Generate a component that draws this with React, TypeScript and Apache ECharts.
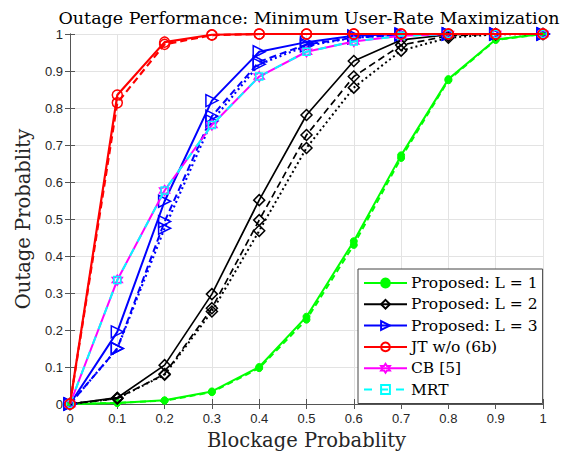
import React, { useEffect, useRef } from "react";
import * as echarts from "echarts";

const xValues = [0, 0.1, 0.2, 0.3, 0.4, 0.5, 0.6, 0.7, 0.8, 0.9, 1];

const greenSolid = [0, 0.003, 0.01, 0.034, 0.1, 0.236, 0.44, 0.672, 0.878, 0.985, 1];
const greenDashed = [0, 0.003, 0.009, 0.032, 0.097, 0.228, 0.43, 0.665, 0.875, 0.984, 1];

const blackSolid = [0, 0.017, 0.105, 0.297, 0.551, 0.781, 0.927, 0.984, 0.998, 1, 1];
const blackDashed = [0, 0.015, 0.081, 0.259, 0.497, 0.727, 0.885, 0.97, 0.995, 1, 1];
const blackDotted = [0, 0.015, 0.079, 0.25, 0.468, 0.692, 0.855, 0.955, 0.99, 0.999, 1];

const blueSolid = [0, 0.195, 0.548, 0.82, 0.952, 0.978, 0.995, 1, 1, 1, 1];
const blueDashed = [0, 0.15, 0.493, 0.778, 0.925, 0.972, 0.99, 0.998, 1, 1, 1];
const blueDotted = [0, 0.15, 0.475, 0.765, 0.918, 0.968, 0.99, 0.998, 1, 1, 1];

const redSolid = [0, 0.835, 0.978, 0.998, 1, 1, 1, 1, 1, 1, 1];
const redDashed = [0, 0.814, 0.972, 0.997, 1, 1, 1, 1, 1, 1, 1];

const cbValues = [0, 0.335, 0.577, 0.754, 0.885, 0.952, 0.98, 0.995, 1, 1, 1];
const mrtValues = [0, 0.335, 0.577, 0.754, 0.885, 0.952, 0.98, 0.995, 1, 1, 1];

const legendNames = [
  "Proposed: L = 1",
  "Proposed: L = 2",
  "Proposed: L = 3",
  "JT w/o (6b)",
  "CB [5]",
  "MRT",
];

const titleText = "Outage Performance: Minimum User-Rate Maximization";
const xAxisName = "Blockage Probablity";
const yAxisName = "Outage Probablity";

const TRI_RIGHT = "path://M0,0L12,7L0,14Z";
const HEXAGRAM =
  "path://M10,0L12.89,5L18.66,5L15.77,10L18.66,15L12.89,15L10,20L7.11,15L1.34,15L4.23,10L1.34,5L7.11,5Z";

const toPairs = (ys: number[]) => ys.map((y, i) => [xValues[i], y]);

function mk(
  name: string,
  ys: number[],
  color: string,
  lineType: any,
  width: number,
  symbol: string,
  size: number,
  filled: boolean,
  z: number
) {
  return {
    type: "line",
    name,
    data: toPairs(ys),
    symbol,
    symbolSize: size,
    showSymbol: true,
    z,
    lineStyle: { color, width, type: lineType },
    itemStyle: filled
      ? { color, borderColor: color, borderWidth: 1 }
      : { color: "rgba(255,255,255,0)", borderColor: color, borderWidth: 1.5 },
    emphasis: { disabled: true },
  };
}

export default function App() {
  const ref = useRef<HTMLDivElement>(null);
  useEffect(() => {
    if (!ref.current) return;
    const chart = echarts.init(ref.current, undefined, { renderer: "svg" });
    const axisColor = "#555555";
    const tickLabel = {
      color: "#262626",
      fontFamily: "Liberation Sans, Arial, sans-serif",
      fontSize: 13,
    };
    const fmt = (v: number) => String(Math.round(v * 10) / 10);
    const option: any = {
      animation: false,
      backgroundColor: "#ffffff",
      grid: { left: 70, right: 28, top: 34, bottom: 52, containLabel: false },
      graphic: [
        {
          type: "text",
          x: 309,
          y: 18,
          style: {
            text: titleText,
            fontFamily: "DejaVu Serif",
            fontSize: 17.5,
            fill: "#000",
            textAlign: "center",
            textVerticalAlign: "middle",
          },
        },
      ],
      legend: {
        orient: "vertical",
        left: 358,
        top: 269,
        data: legendNames,
        itemWidth: 43,
        itemHeight: 11,
        itemGap: 3.3,
        padding: [5, 5, 5, 5],
        backgroundColor: "#ffffff",
        borderColor: "#444",
        borderWidth: 1,
        borderRadius: 0,
        z: 10,
        textStyle: {
          fontFamily: "DejaVu Serif",
          fontSize: 15.5,
          lineHeight: 18,
          color: "#000",
          padding: [0, 0, 0, -1],
        },
        selectedMode: false,
      },
      xAxis: [
        {
          type: "value",
          min: 0,
          max: 1,
          interval: 0.1,
          name: xAxisName,
          nameLocation: "middle",
          nameGap: 26,
          nameTextStyle: { fontFamily: "DejaVu Serif", fontSize: 19.5, color: "#262626" },
          axisLine: { show: true, lineStyle: { color: axisColor, width: 1 } },
          axisTick: { show: true, inside: true, length: 5, lineStyle: { color: axisColor } },
          axisLabel: { ...tickLabel, margin: 8, formatter: fmt },
          splitLine: { show: true, lineStyle: { color: "#e3e3e3", width: 1 } },
        },
        {
          type: "value",
          min: 0,
          max: 1,
          interval: 0.1,
          position: "top",
          axisLine: { show: true, lineStyle: { color: axisColor, width: 1 } },
          axisTick: { show: true, inside: true, length: 5, lineStyle: { color: axisColor } },
          axisLabel: { show: false },
          splitLine: { show: false },
        },
      ],
      yAxis: [
        {
          type: "value",
          min: 0,
          max: 1,
          interval: 0.1,
          name: yAxisName,
          nameLocation: "middle",
          nameGap: 37,
          nameTextStyle: { fontFamily: "DejaVu Serif", fontSize: 19.5, color: "#262626" },
          axisLine: { show: true, lineStyle: { color: axisColor, width: 1 } },
          axisTick: { show: true, inside: true, length: 5, lineStyle: { color: axisColor } },
          axisLabel: { ...tickLabel, margin: 7, formatter: fmt },
          splitLine: { show: true, lineStyle: { color: "#e3e3e3", width: 1 } },
        },
        {
          type: "value",
          min: 0,
          max: 1,
          interval: 0.1,
          position: "right",
          axisLine: { show: true, lineStyle: { color: axisColor, width: 1 } },
          axisTick: { show: true, inside: true, length: 5, lineStyle: { color: axisColor } },
          axisLabel: { show: false },
          splitLine: { show: false },
        },
      ],
      series: [
        mk("Proposed: L = 1", greenSolid, "#00ff00", "solid", 2, "circle", 7, true, 3),
        mk("Proposed: L = 1 (b)", greenDashed, "#00ff00", [6, 4], 2, "circle", 7, true, 3),
        mk("Proposed: L = 2", blackSolid, "#000000", "solid", 1.7, "diamond", 11, false, 4),
        mk("Proposed: L = 2 (b)", blackDashed, "#000000", [7, 4], 1.7, "diamond", 11, false, 4),
        mk("Proposed: L = 2 (c)", blackDotted, "#000000", [2, 3], 2, "diamond", 11, false, 4),
        mk("Proposed: L = 3", blueSolid, "#0000ff", "solid", 2, TRI_RIGHT, 12, false, 5),
        mk("Proposed: L = 3 (b)", blueDashed, "#0000ff", [7, 4], 2, TRI_RIGHT, 12, false, 5),
        mk("Proposed: L = 3 (c)", blueDotted, "#0000ff", [2, 3], 2.2, TRI_RIGHT, 12, false, 5),
        mk("JT w/o (6b)", redSolid, "#ff0000", "solid", 2.2, "circle", 10, false, 7),
        mk("JT w/o (6b) (b)", redDashed, "#ff0000", [7, 4], 2.2, "circle", 10, false, 7),
        mk("CB [5]", cbValues, "#ff00ff", "solid", 2, HEXAGRAM, 10, false, 6),
        mk("MRT", mrtValues, "#00ffff", [8, 8], 2, "rect", 7, false, 6),
      ],
    };
    chart.setOption(option);
    return () => chart.dispose();
  }, []);
  return (
    <div
      ref={ref}
      style={{ position: "absolute", left: 0, top: 0, width: 571, height: 456 }}
    />
  );
}
